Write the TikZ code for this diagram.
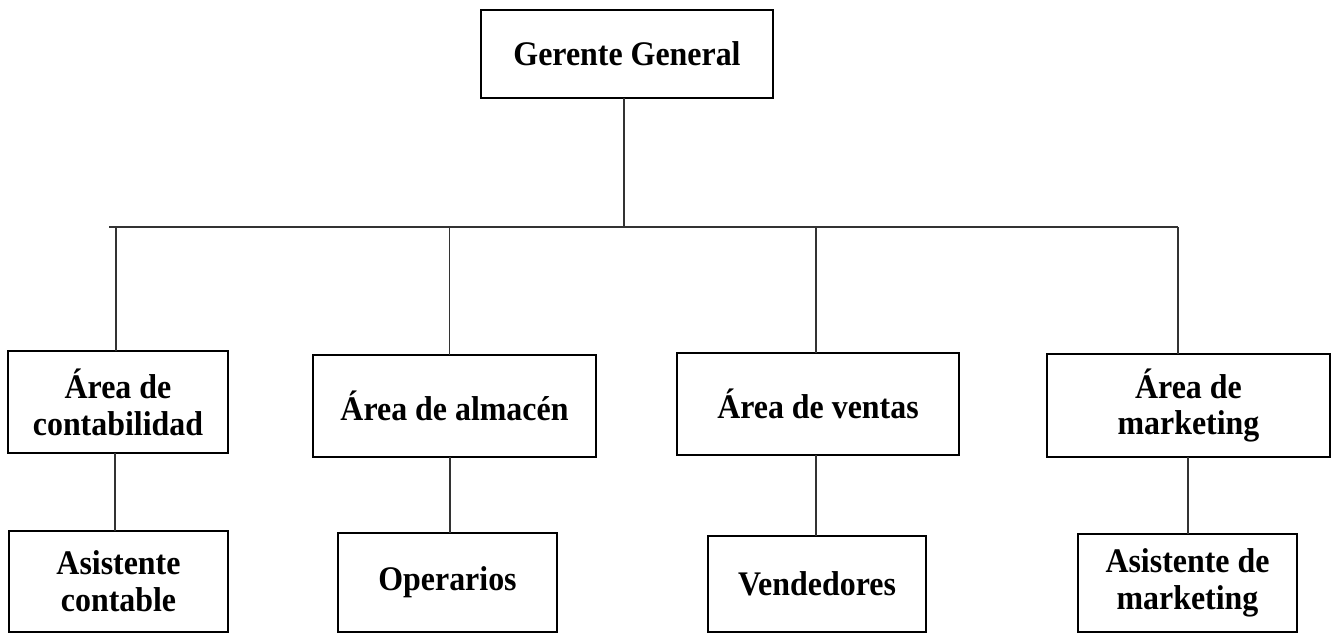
\documentclass[tikz,border=0pt]{standalone}
\usepackage{fontspec}
\setmainfont[FakeStretch=0.925]{Liberation Serif}
\begin{document}
\begin{tikzpicture}[x=1pt,y=-1pt,
  box/.style={draw=black,line width=2.9pt,fill=white,inner sep=0pt,outer sep=0pt,
    align=center,font=\fontsize{34.5}{36.8}\selectfont\bfseries},
  conn/.style={draw=black!80,line width=1.3pt}]
\useasboundingbox (0,0) rectangle (1339,634);
% top
\node[box,minimum width=292pt,minimum height=88pt] (gg) at (627,54) {Gerente General};
% level 2
\node[box,minimum width=220pt,minimum height=102pt] (c1) at (118,402) {Área de\\contabilidad};
\node[box,minimum width=283pt,minimum height=102pt] (c2) at (454.5,406) {Área de almacén};
\node[box,minimum width=282pt,minimum height=102pt] (c3) at (818,404) {Área de ventas};
\node[box,minimum width=283pt,minimum height=103pt] (c4) at (1188.5,405.5) {Área de\\marketing};
% level 3
\node[box,minimum width=219pt,minimum height=101pt] (d1) at (118.5,581.5) {Asistente\\contable};
\node[box,minimum width=219pt,minimum height=99pt] (d2) at (447.5,582.5) {Operarios};
\node[box,minimum width=218pt,minimum height=96pt] (d3) at (817,584) {Vendedores};
\node[box,minimum width=219pt,minimum height=98pt] (d4) at (1187.5,583) {Asistente de\\marketing};
% bus
\coordinate (busL) at (109,227);
\coordinate (j0) at (624,227);
\coordinate (j1) at (116,227);
\coordinate (j2) at (449.5,227);
\coordinate (j3) at (816,227);
\coordinate (j4) at (1178,227);
\draw[conn] (busL) -- (j4);
\draw[conn] (j0 |- gg.south) -- (j0);
\draw[conn] (j1) -- (j1 |- c1.north);
\draw[conn] (j2) -- (j2 |- c2.north);
\draw[conn] (j3) -- (j3 |- c3.north);
\draw[conn] (j4) -- (j4 |- c4.north);
\coordinate (k1) at (115,0);
\coordinate (k2) at (450,0);
\coordinate (k3) at (816,0);
\coordinate (k4) at (1188,0);
\draw[conn] (k1 |- c1.south) -- (k1 |- d1.north);
\draw[conn] (k2 |- c2.south) -- (k2 |- d2.north);
\draw[conn] (k3 |- c3.south) -- (k3 |- d3.north);
\draw[conn] (k4 |- c4.south) -- (k4 |- d4.north);
\end{tikzpicture}
\end{document}
